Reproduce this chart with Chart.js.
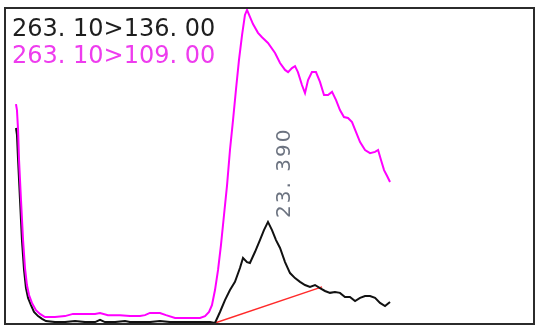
<!DOCTYPE html>
<html>
<head>
<meta charset="utf-8">
<script src="https://cdn.jsdelivr.net/npm/chart.js@4"></script>
<style>
  html, body { margin: 0; padding: 0; background: #fff; }
  #wrap { width: 536px; height: 330px; }
</style>
</head>
<body>
<div id="wrap"><canvas id="chrom" width="536" height="330"></canvas></div>
<script>
// transition names (legend)
const traceNames = ["263. 10>136. 00", "263. 10>109. 00"];
const peakLabel = "23. 390";

// 263.10>136.00 (black trace): retention time (min) / relative intensity
const blackTimes = [21.572, 21.579, 21.587, 21.601, 21.615, 21.630, 21.644, 21.659, 21.680, 21.702,
  21.731, 21.760, 21.788, 21.853, 21.925, 21.998, 22.070, 22.142, 22.178, 22.214,
  22.286, 22.358, 22.394, 22.466, 22.538, 22.610, 22.683, 22.755, 22.827, 22.899,
  22.971, 23.007, 23.043, 23.079, 23.115, 23.151, 23.187, 23.209, 23.238, 23.259,
  23.295, 23.331, 23.360, 23.389, 23.418, 23.447, 23.476, 23.512, 23.548, 23.584,
  23.620, 23.656, 23.692, 23.728, 23.764, 23.800, 23.836, 23.872, 23.908, 23.944,
  23.980, 24.017, 24.053, 24.089, 24.125, 24.161, 24.197, 24.233, 24.269];
const blackValues = [62.1, 59.9, 51.9, 39.2, 26.4, 16.9, 11.1, 8.0, 5.7, 3.5,
  2.2, 1.3, 0.6, 0.3, 0.3, 0.6, 0.3, 0.3, 1.0, 0.3,
  0.3, 0.6, 0.3, 0.3, 0.3, 0.6, 0.3, 0.3, 0.3, 0.3,
  0.3, 0.0, 3.5, 7.3, 10.5, 13.1, 17.5, 20.7, 19.4, 19.1,
  22.6, 26.4, 29.6, 32.2, 29.6, 26.4, 23.9, 19.4, 15.9, 14.3,
  13.1, 12.1, 11.5, 12.1, 11.1, 10.2, 9.6, 9.9, 9.6, 8.3,
  8.3, 7.0, 8.0, 8.6, 8.6, 8.0, 6.4, 5.4, 6.7];

// 263.10>109.00 (magenta trace)
const magentaTimes = [21.572, 21.579, 21.587, 21.594, 21.608, 21.623, 21.637, 21.651, 21.666, 21.687,
  21.716, 21.745, 21.781, 21.853, 21.925, 21.983, 22.070, 22.142, 22.178, 22.235,
  22.322, 22.394, 22.466, 22.502, 22.538, 22.610, 22.654, 22.719, 22.827, 22.899,
  22.935, 22.964, 22.985, 23.007, 23.029, 23.050, 23.072, 23.094, 23.115, 23.137,
  23.158, 23.180, 23.202, 23.223, 23.238, 23.259, 23.281, 23.317, 23.346, 23.389,
  23.440, 23.476, 23.512, 23.534, 23.562, 23.584, 23.605, 23.634, 23.656, 23.678,
  23.706, 23.735, 23.764, 23.793, 23.822, 23.851, 23.880, 23.908, 23.937, 23.966,
  23.995, 24.024, 24.053, 24.089, 24.125, 24.161, 24.183, 24.204, 24.226, 24.248, 24.269];
const magentaValues = [69.7, 67.8, 61.5, 51.9, 39.2, 26.4, 17.5, 12.1, 8.9, 6.4,
  4.1, 2.9, 1.9, 1.9, 2.2, 2.9, 2.9, 2.9, 3.2, 2.5,
  2.5, 2.2, 2.2, 2.5, 3.2, 3.2, 2.5, 1.6, 1.6, 1.6,
  2.2, 3.5, 5.7, 10.5, 16.9, 24.8, 34.4, 43.9, 55.1, 64.6,
  74.2, 83.8, 91.7, 98.1, 99.7, 97.5, 95.2, 92.4, 91.0, 89.2,
  86.0, 82.8, 80.6, 79.9, 81.2, 81.8, 79.9, 75.8, 73.2, 77.4,
  79.9, 79.9, 76.8, 72.6, 72.6, 73.6, 71.0, 67.8, 65.6, 65.3,
  64.0, 60.8, 57.6, 55.1, 54.1, 54.5, 55.1, 51.9, 48.7, 46.8, 44.9];

// integration baseline under the 23.390 peak
const baseTimes = [23.007, 23.779];
const baseValues = [0.0, 11.5];

const peakTime = 23.389;
const peakValue = 32.2;

const toPoints = (xs, ys) => xs.map((x, i) => ({ x: x, y: ys[i] }));

// frame + legend text + rotated peak label
const decorations = {
  id: "decorations",
  afterDraw(chart) {
    const ctx = chart.ctx;
    const a = chart.chartArea;
    ctx.save();
    ctx.strokeStyle = "#2b2b2b";
    ctx.lineWidth = 2;
    ctx.strokeRect(a.left - 1, a.top - 1, a.right - a.left + 2, a.bottom - a.top + 2);

    ctx.font = "24px 'DejaVu Sans'";
    ctx.textBaseline = "alphabetic";
    ctx.textAlign = "left";
    ctx.fillStyle = "#1e1e1e";
    ctx.fillText(traceNames[0], 12, 36);
    ctx.fillStyle = "#ee3cee";
    ctx.fillText(traceNames[1], 12, 63);

    const px = chart.scales.x.getPixelForValue(peakTime);
    const py = chart.scales.y.getPixelForValue(peakValue);
    ctx.translate(px + 17, py - 4);
    ctx.rotate(-Math.PI / 2);
    ctx.font = "20px 'DejaVu Sans'";
    ctx.letterSpacing = "2px";
    ctx.textBaseline = "middle";
    ctx.fillStyle = "#6c7380";
    ctx.fillText(peakLabel, 0, 0);
    ctx.restore();
  }
};

new Chart(document.getElementById("chrom"), {
  type: "line",
  data: {
    datasets: [
      {
        data: toPoints(magentaTimes, magentaValues),
        borderColor: "#ff00ff",
        borderWidth: 2,
        pointRadius: 0,
        tension: 0
      },
      {
        data: toPoints(blackTimes, blackValues),
        borderColor: "#111111",
        borderWidth: 2,
        pointRadius: 0,
        tension: 0
      },
      {
        data: toPoints(baseTimes, baseValues),
        borderColor: "#ff2a2a",
        borderWidth: 1.5,
        pointRadius: 0,
        tension: 0
      }
    ]
  },
  options: {
    responsive: false,
    animation: false,
    devicePixelRatio: 1,
    layout: { padding: { left: 6, right: 3, top: 9, bottom: 7 } },
    plugins: { legend: { display: false }, tooltip: { enabled: false } },
    scales: {
      x: { type: "linear", min: 21.5, max: 25.3, display: false },
      y: { min: 0, max: 100, display: false }
    }
  },
  plugins: [decorations]
});
</script>
</body>
</html>
